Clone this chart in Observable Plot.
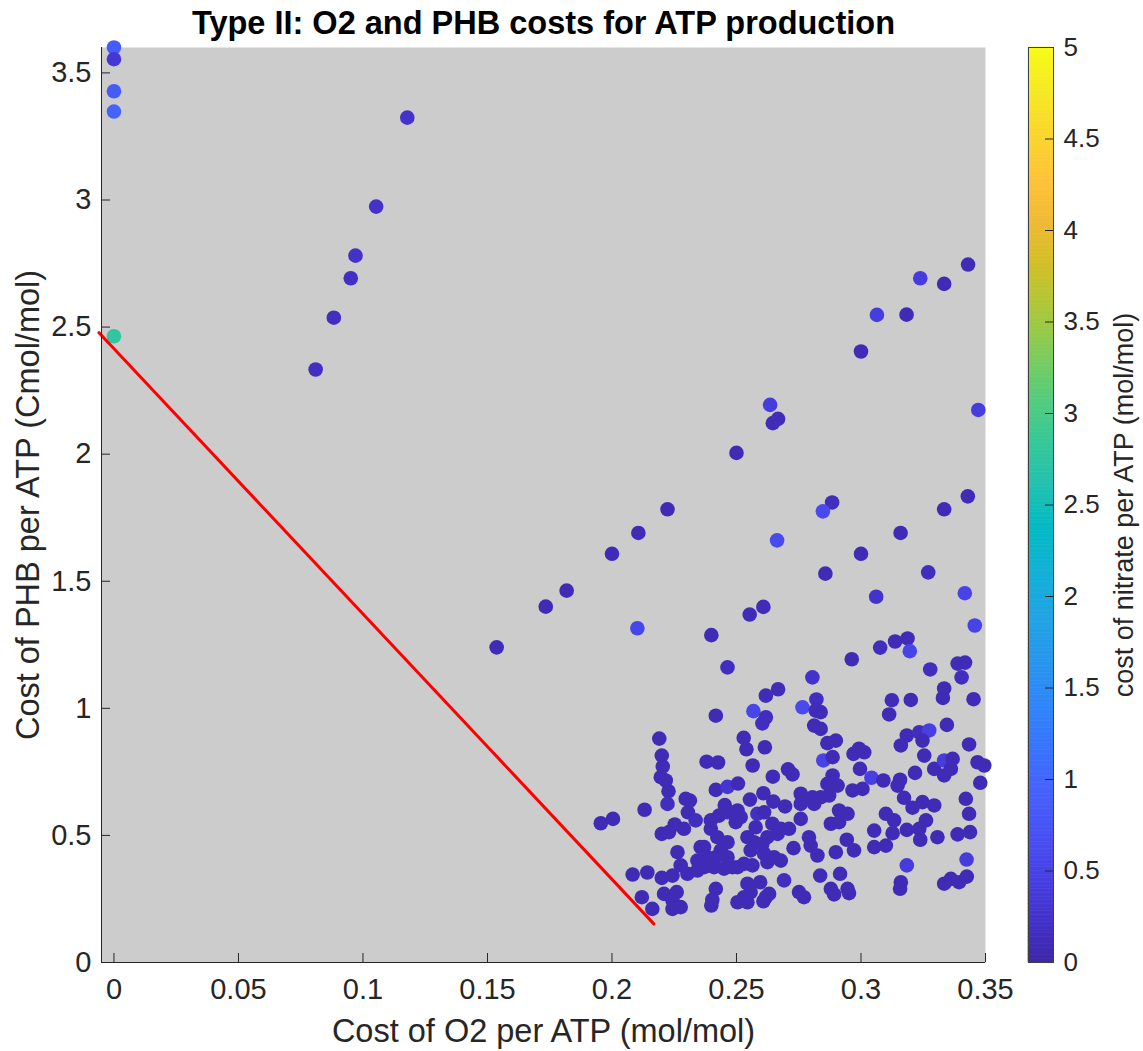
<!DOCTYPE html>
<html><head><meta charset="utf-8">
<script src="https://cdn.jsdelivr.net/npm/d3@7"></script>
<script src="https://cdn.jsdelivr.net/npm/@observablehq/plot@0.6"></script>
<style>
html,body{margin:0;padding:0;background:#fff;}
#fig{position:relative;width:1143px;height:1051px;}
#fig svg{position:absolute;top:0;}
</style></head><body><div id="fig"></div>
<script>
const o2 = [
0, 0, 0, 0, 0,
0.1178, 0.1053, 0.0970, 0.0951, 0.0883, 0.0810,
0.3430, 0.3238, 0.3334, 0.3064, 0.3183, 0.3000, 0.2635, 0.2667, 0.2646, 0.2500, 0.3471,
0.2223, 0.2106, 0.2000, 0.2884, 0.2847, 0.3334, 0.3429, 0.2663, 0.3159, 0.3000,
0.2857, 0.3270, 0.3061, 0.3417, 0.3457, 0.2102, 0.2553, 0.2608, 0.2399, 0.2464,
0.2805, 0.2963, 0.3077, 0.3137, 0.3187, 0.3196, 0.3278, 0.3388, 0.3418, 0.3404,
0.3334, 0.3329, 0.3452, 0.3200, 0.3124, 0.2618, 0.2667, 0.2821,
0.1734, 0.1818, 0.1537,
0.1955, 0.2004, 0.2083,
0.2190, 0.2200, 0.2204, 0.2196, 0.2216, 0.2227, 0.2223, 0.2131, 0.2142, 0.2200, 0.2120, 0.2162, 0.2209, 0.2200, 0.2229,
0.2260, 0.2243, 0.2243, 0.2276, 0.2263, 0.2252, 0.2289, 0.2296, 0.2313, 0.2305, 0.2336, 0.2276, 0.2243, 0.2303, 0.2343, 0.2356, 0.2343,
0.2417, 0.2380, 0.2426, 0.2417, 0.2464, 0.2506, 0.2453, 0.2397, 0.2430, 0.2464, 0.2397, 0.2423, 0.2464, 0.2370, 0.2383, 0.2417, 0.2437, 0.2370, 0.2410, 0.2450, 0.2417, 0.2403, 0.2399, 0.2484, 0.2464,
0.2568, 0.2618, 0.2604, 0.2529, 0.2540, 0.2614, 0.2565, 0.2554, 0.2608, 0.2504, 0.2517, 0.2497, 0.2584, 0.2611, 0.2577, 0.2544, 0.2571, 0.2557, 0.2604, 0.2611, 0.2530, 0.2564, 0.2504, 0.2544, 0.2595, 0.2557, 0.2530, 0.2504, 0.2544, 0.2618, 0.2631, 0.2608,
0.2646, 0.2707, 0.2725, 0.2648, 0.2695, 0.2758, 0.2758, 0.2644, 0.2678, 0.2711, 0.2665, 0.2624, 0.2651, 0.2678, 0.2624, 0.2729, 0.2691, 0.2751, 0.2771,
0.2765, 0.2818, 0.2838, 0.2812, 0.2838, 0.2865, 0.2899, 0.2849, 0.2886, 0.2886, 0.2865, 0.2906, 0.2805, 0.2838, 0.2872, 0.2758, 0.2812, 0.2912, 0.2946, 0.2879, 0.2912, 0.2791, 0.2798, 0.2825, 0.2943, 0.2972, 0.2899, 0.2836, 0.2916, 0.2879, 0.2892, 0.2946, 0.2952,
0.2970, 0.3013, 0.2992, 0.2996, 0.2966, 0.3006, 0.3042, 0.3053, 0.3053, 0.3100,
0.3113, 0.3090, 0.3147, 0.3157, 0.3160, 0.3184, 0.3100, 0.3133, 0.3127, 0.3173, 0.3207, 0.3184, 0.3184, 0.3160, 0.3157, 0.3217,
0.3234, 0.3274, 0.3247, 0.3254, 0.3247, 0.3294, 0.3261, 0.3234, 0.3238, 0.3307, 0.3294, 0.3334, 0.3345, 0.3334, 0.3368, 0.3361,
0.3434, 0.3468, 0.3495, 0.3479, 0.3421, 0.3434, 0.3388, 0.3438, 0.3424, 0.3425, 0.3394, 0.3361, 0.3334
];
const phb = [
3.600, 3.554, 3.428, 3.348, 2.464,
3.324, 2.974, 2.781, 2.692, 2.537, 2.333,
2.746, 2.692, 2.670, 2.548, 2.549, 2.404, 2.194, 2.139, 2.122, 2.005, 2.174,
1.783, 1.690, 1.608, 1.810, 1.775, 1.783, 1.834, 1.661, 1.690, 1.608,
1.530, 1.535, 1.439, 1.453, 1.326, 1.315, 1.369, 1.399, 1.288, 1.161,
1.122, 1.193, 1.239, 1.263, 1.275, 1.225, 1.153, 1.176, 1.180, 1.122,
1.078, 1.041, 1.036, 1.033, 1.032, 1.050, 1.075, 1.035,
1.400, 1.463, 1.240,
0.548, 0.565, 0.346,
0.881, 0.814, 0.771, 0.729, 0.716, 0.674, 0.624, 0.601, 0.354, 0.333, 0.257, 0.211, 0.270, 0.506, 0.513,
0.277, 0.244, 0.211, 0.218, 0.434, 0.543, 0.526, 0.644, 0.637, 0.591, 0.559, 0.382, 0.342, 0.349, 0.401, 0.454, 0.362,
0.971, 0.790, 0.787, 0.679, 0.691, 0.704, 0.619, 0.559, 0.578, 0.591, 0.526, 0.493, 0.473, 0.454, 0.414, 0.414, 0.441, 0.375, 0.375, 0.369, 0.290, 0.247, 0.224, 0.375, 0.414,
0.989, 0.965, 0.941, 0.884, 0.839, 0.847, 0.775, 0.641, 0.666, 0.598, 0.572, 0.552, 0.585, 0.591, 0.532, 0.493, 0.473, 0.441, 0.467, 0.428, 0.388, 0.382, 0.375, 0.310, 0.316, 0.277, 0.257, 0.237, 0.237, 0.257, 0.270, 0.241,
0.731, 0.760, 0.740, 0.633, 0.614, 0.664, 0.565, 0.546, 0.526, 0.526, 0.506, 0.493, 0.414, 0.401, 0.395, 0.450, 0.323, 0.277, 0.257,
1.004, 0.991, 0.985, 0.932, 0.919, 0.863, 0.873, 0.795, 0.808, 0.736, 0.703, 0.696, 0.650, 0.650, 0.657, 0.624, 0.624, 0.598, 0.585, 0.546, 0.552, 0.493, 0.460, 0.421, 0.483, 0.441, 0.434, 0.342, 0.349, 0.290, 0.268, 0.290, 0.273,
0.821, 0.827, 0.841, 0.762, 0.677, 0.683, 0.727, 0.519, 0.454, 0.460,
0.976, 0.716, 0.696, 0.719, 0.854, 0.893, 0.585, 0.559, 0.509, 0.648, 0.609, 0.522, 0.382, 0.316, 0.290, 0.746,
0.906, 0.913, 0.873, 0.814, 0.631, 0.618, 0.559, 0.526, 0.483, 0.493, 0.762, 0.736, 0.935, 0.795, 0.801, 0.762,
0.858, 0.788, 0.775, 0.707, 0.644, 0.585, 0.504, 0.513, 0.405, 0.338, 0.316, 0.329, 0.310
];
const nitrate = [
0.85, 0.32, 0.85, 0.95, 2.78,
0.25, 0.22, 0.22, 0.20, 0.18, 0.18,
0.10, 0.40, 0.10, 0.42, 0.10, 0.10, 0.40, 0.12, 0.12, 0.10, 0.42,
0.10, 0.10, 0.10, 0.15, 0.60, 0.10, 0.10, 0.60, 0.10, 0.10,
0.10, 0.15, 0.25, 0.50, 0.50, 0.55, 0.12, 0.12, 0.10, 0.15,
0.25, 0.10, 0.15, 0.10, 0.10, 0.50, 0.15, 0.12, 0.10, 0.15,
0.10, 0.10, 0.12, 0.10, 0.12, 0.12, 0.12, 0.15,
0.10, 0.10, 0.10,
0.10, 0.10, 0.10,
0.10, 0.10, 0.10, 0.10, 0.10, 0.10, 0.15, 0.10, 0.10, 0.10, 0.10, 0.10, 0.10, 0.10, 0.10,
0.10, 0.10, 0.10, 0.10, 0.10, 0.10, 0.10, 0.10, 0.10, 0.10, 0.15, 0.10, 0.10, 0.10, 0.10, 0.10, 0.10,
0.10, 0.10, 0.10, 0.10, 0.30, 0.10, 0.10, 0.10, 0.10, 0.10, 0.10, 0.10, 0.10, 0.10, 0.10, 0.10, 0.10, 0.10, 0.10, 0.10, 0.10, 0.10, 0.10, 0.10, 0.10,
0.55, 0.15, 0.15, 0.10, 0.10, 0.10, 0.10, 0.10, 0.10, 0.10, 0.10, 0.10, 0.20, 0.10, 0.10, 0.10, 0.10, 0.10, 0.10, 0.10, 0.10, 0.10, 0.10, 0.10, 0.10, 0.10, 0.10, 0.10, 0.10, 0.10, 0.10, 0.10,
0.10, 0.10, 0.10, 0.10, 0.10, 0.10, 0.10, 0.10, 0.10, 0.10, 0.10, 0.10, 0.10, 0.10, 0.10, 0.10, 0.15, 0.10, 0.10,
0.60, 0.12, 0.12, 0.10, 0.10, 0.10, 0.10, 0.50, 0.10, 0.10, 0.10, 0.10, 0.10, 0.10, 0.10, 0.10, 0.10, 0.10, 0.10, 0.10, 0.10, 0.10, 0.10, 0.10, 0.10, 0.10, 0.10, 0.10, 0.10, 0.10, 0.10, 0.10, 0.10,
0.10, 0.10, 0.10, 0.10, 0.10, 0.10, 0.45, 0.10, 0.10, 0.10,
0.10, 0.10, 0.10, 0.10, 0.10, 0.10, 0.10, 0.10, 0.10, 0.10, 0.10, 0.10, 0.40, 0.10, 0.10, 0.10,
0.15, 0.45, 0.10, 0.10, 0.10, 0.10, 0.10, 0.10, 0.10, 0.10, 0.10, 0.10, 0.10, 0.40, 0.10, 0.10,
0.10, 0.10, 0.10, 0.10, 0.10, 0.10, 0.10, 0.10, 0.40, 0.10, 0.10, 0.10, 0.10
];
const lineO2 = [-0.006, 0.2168];
const linePHB = [2.478, 0.152];
const xTicks = [0, 0.05, 0.1, 0.15, 0.2, 0.25, 0.3, 0.35];
const yTicks = [0, 0.5, 1, 1.5, 2, 2.5, 3, 3.5];
const cTicks = [0, 0.5, 1, 1.5, 2, 2.5, 3, 3.5, 4, 4.5, 5];
const titleText = "Type II: O2 and PHB costs for ATP production";
const xLabel = "Cost of O2 per ATP (mol/mol)";
const yLabel = "Cost of PHB per ATP (Cmol/mol)";
const cLabel = "cost of nitrate per ATP (mol/mol)";
const parula = ["#3e26a8","#4332cb","#4741e5","#4852f4","#4563fd","#3875fe","#2e87f7","#2797eb","#20a5e3","#12b1d6","#02bac3","#24c1af","#37c897","#57cc7a","#81cc59","#abc739","#d1bf27","#f0ba36","#fec338","#fad62d","#f5e924","#f9fb15"];

const font = "'Liberation Sans', Arial, Helvetica, sans-serif";
const ink = "#262626";
const colorScale = () => ({type: "linear", domain: [0, 5], interpolate: d3.piecewise(d3.interpolateRgb, parula)});
const points = o2.map((x, i) => ({o2: x, phb: phb[i], nitrate: nitrate[i]}));
const redLine = lineO2.map((x, i) => ({o2: x, phb: linePHB[i]}));
const fmt = d => String(d);

const main = Plot.plot({
  width: 1143, height: 1051,
  marginLeft: 101, marginRight: 158, marginTop: 47, marginBottom: 89,
  style: {fontFamily: font, fontSize: "29px", color: ink, background: "transparent", overflow: "visible"},
  x: {domain: [-0.005, 0.35], ticks: xTicks, tickSize: 0, tickPadding: 16, tickFormat: fmt, label: null},
  y: {domain: [0, 3.6], ticks: yTicks, tickSize: 0, tickPadding: 10, tickFormat: fmt, label: null},
  color: colorScale(),
  marks: [
    Plot.frame({fill: "#cccccc", stroke: "none"}),
    Plot.dot(points, {x: "o2", y: "phb", fill: "nitrate", r: 7.3, stroke: "none"}),
    Plot.line(redLine, {x: "o2", y: "phb", stroke: "#ff0000", strokeWidth: 3}),
    Plot.ruleY([0], {stroke: ink}),
    Plot.ruleX([-0.005], {stroke: ink}),
    Plot.ruleX(xTicks, {stroke: ink, insetTop: 906}),
    Plot.ruleY(yTicks, {stroke: ink, insetRight: 875}),
    Plot.text([titleText], {text: d => d, frameAnchor: "top", dy: -14, lineAnchor: "bottom", textAnchor: "middle", fontWeight: "bold", fontSize: 32.5, fill: "#000"}),
    Plot.text([xLabel], {text: d => d, frameAnchor: "bottom", dy: 79, lineAnchor: "bottom", textAnchor: "middle", fontSize: 32.5, fill: ink}),
    Plot.text([yLabel], {text: d => d, frameAnchor: "left", dx: -73, rotate: -90, lineAnchor: "middle", textAnchor: "middle", fontSize: 32.5, fill: ink})
  ]
});
main.style.left = "0px";

const steps = d3.range(0, 5, 0.02);
const cbar = Plot.plot({
  width: 143, height: 1051,
  marginLeft: 28, marginRight: 90, marginTop: 47, marginBottom: 89,
  style: {fontFamily: font, fontSize: "26px", color: ink, background: "transparent", overflow: "visible"},
  x: {domain: [0, 1], axis: null},
  y: {domain: [0, 5], ticks: cTicks, axis: "right", tickSize: 0, tickPadding: 10, tickFormat: fmt, label: null},
  color: colorScale(),
  marks: [
    Plot.rect(steps, {x1: 0, x2: 1, y1: d => d, y2: d => d + 0.02, fill: d => d + 0.01, stroke: d => d + 0.01, strokeWidth: 0.6}),
    Plot.ruleY(cTicks, {stroke: ink, insetLeft: 17}),
    Plot.frame({stroke: "#404040"}),
    Plot.text([cLabel], {text: d => d, frameAnchor: "right", dx: 71, rotate: -90, lineAnchor: "middle", textAnchor: "middle", fontSize: 27, fill: ink})
  ]
});
cbar.style.left = "1000px";

const fig = document.getElementById("fig");
fig.appendChild(main);
fig.appendChild(cbar);
</script>
</body></html>
